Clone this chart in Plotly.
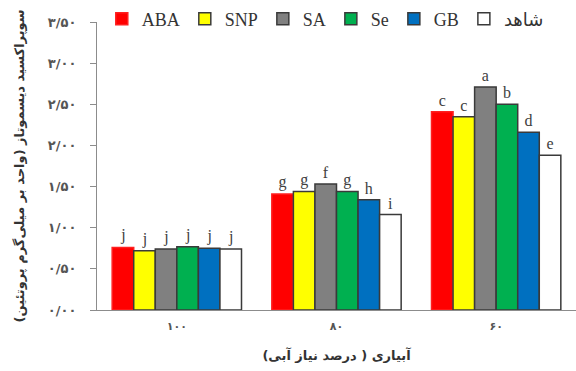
import plotly.graph_objects as go

# Irrigation levels (percent of water requirement), Persian digits
categories = ["۱۰۰", "۸۰", "۶۰"]

# Treatments and their mean SOD activity per irrigation level
treatments = ["ABA", "SNP", "SA", "Se", "GB", "شاهد"]
values = {
    "ABA":  [0.76, 1.41, 2.41],
    "SNP":  [0.72, 1.44, 2.35],
    "SA":   [0.74, 1.53, 2.71],
    "Se":   [0.77, 1.44, 2.50],
    "GB":   [0.75, 1.34, 2.16],
    "شاهد": [0.74, 1.16, 1.88],
}
# Mean-comparison letters
letters = {
    "ABA":  ["j", "g", "c"],
    "SNP":  ["j", "g", "c"],
    "SA":   ["j", "f", "a"],
    "Se":   ["j", "g", "b"],
    "GB":   ["j", "h", "d"],
    "شاهد": ["j", "i", "e"],
}

fill_colors = ["#ff0000", "#ffff00", "#808080", "#00b050", "#0070c0", "#ffffff"]
edge_colors = ["#ff2020", "#3a3a3a", "#3a3a3a", "#3a3a3a", "#3a3a3a", "#3a3a3a"]

y_tickvals = [0, 0.5, 1.0, 1.5, 2.0, 2.5, 3.0, 3.5]
y_ticktext = ["۰/۰۰", "۰/۵۰", "۱/۰۰", "۱/۵۰", "۲/۰۰", "۲/۵۰", "۳/۰۰", "۳/۵۰"]

x_title = "آبیاری ( درصد نیاز آبی)"
y_title = "سوپراکسید دیسموتاز (واحد بر میلی‌گرم پروتئین)"

fig = go.Figure()
for name, fc, ec in zip(treatments, fill_colors, edge_colors):
    fig.add_trace(go.Bar(
        name=name,
        x=categories,
        y=values[name],
        text=letters[name],
        textposition="outside",
        textfont=dict(family="Liberation Serif", size=16, color="#404040"),
        cliponaxis=False,
        marker=dict(color=fc, line=dict(color=ec, width=1.5)),
    ))

fig.update_layout(
    width=576,
    height=371,
    margin=dict(l=97, r=0, t=22, b=61),
    plot_bgcolor="white",
    paper_bgcolor="white",
    barmode="group",
    bargap=0.19,
    bargroupgap=0,
    showlegend=True,
    legend=dict(
        orientation="h",
        x=0.01, xanchor="left",
        y=1.01, yanchor="middle",
        bgcolor="rgba(0,0,0,0)",
        font=dict(family="Liberation Serif, DejaVu Sans", size=18, color="#333333"),
        traceorder="normal",
    ),
)

fig.update_xaxes(
    showline=True, linecolor="#8c8c8c", linewidth=1,
    ticks="", showgrid=False,
    ticklabelstandoff=6,
    tickfont=dict(family="DejaVu Sans", size=11, color="#555555", weight="bold"),
    title=dict(text=x_title, standoff=18,
               font=dict(family="DejaVu Sans", size=13, color="#333333", weight="bold")),
)
fig.update_yaxes(
    range=[0, 3.5],
    showline=True, linecolor="#8c8c8c", linewidth=1,
    ticks="outside", ticklen=6, tickcolor="#8c8c8c",
    tickvals=y_tickvals, ticktext=y_ticktext,
    showgrid=False, zeroline=False,
    ticklabelstandoff=11,
    tickfont=dict(family="DejaVu Sans", size=13, color="#555555", weight="bold"),
    title=dict(text=y_title, standoff=20,
               font=dict(family="DejaVu Sans", size=13, color="#333333", weight="bold")),
)

fig.write_html("out.html")
